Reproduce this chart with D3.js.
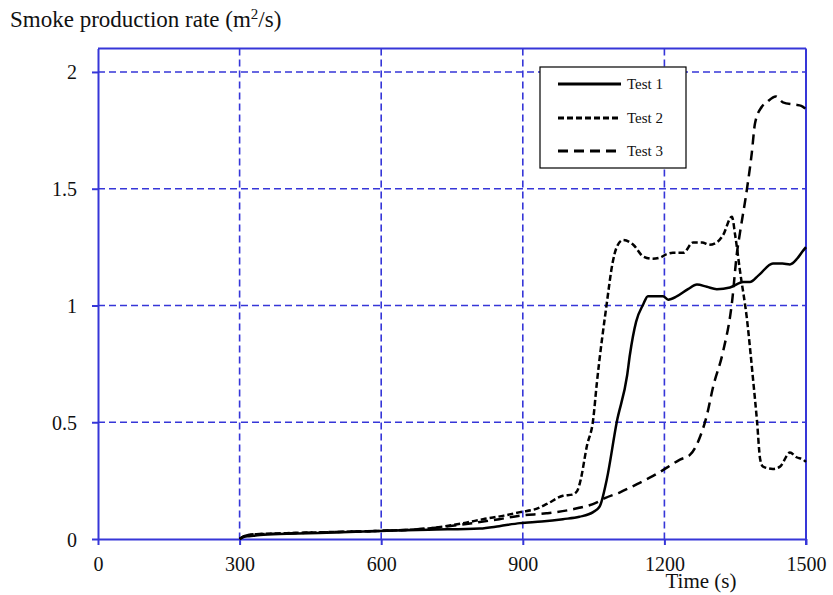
<!DOCTYPE html>
<html>
<head>
<meta charset="utf-8">
<script src="https://cdn.jsdelivr.net/npm/d3@7"></script>
<style>
  html, body { margin: 0; padding: 0; background: #fff; }
  svg { display: block; }
</style>
</head>
<body>
<svg id="chart" width="833" height="595"></svg>
<script>
const xTicks = [0, 300, 600, 900, 1200, 1500];
const yTicks = [0, 0.5, 1, 1.5, 2];
const yTickLabels = ["0", "0.5", "1", "1.5", "2"];
const seriesNames = ["Test 1", "Test 2", "Test 3"];

const t1x = [300, 310, 320, 343, 400, 500, 597, 700, 809, 850, 894, 940, 985, 1020, 1049, 1063, 1078, 1099, 1121, 1127, 1140, 1155, 1165, 1180, 1197, 1208, 1227, 1250, 1269, 1290, 1311, 1339, 1367, 1381, 1400, 1430, 1450, 1466, 1481, 1492, 1500];
const t1y = [0, 0.01, 0.012, 0.017, 0.022, 0.028, 0.034, 0.04, 0.045, 0.055, 0.068, 0.075, 0.085, 0.095, 0.115, 0.14, 0.256, 0.5, 0.70, 0.79, 0.93, 1.004, 1.04, 1.04, 1.04, 1.025, 1.04, 1.07, 1.09, 1.08, 1.07, 1.077, 1.10, 1.10, 1.13, 1.18, 1.18, 1.176, 1.20, 1.23, 1.25];

const t2x = [300, 310, 330, 400, 500, 600, 700, 739, 780, 816, 860, 894, 930, 951, 985, 1005, 1015, 1021, 1036, 1049, 1057, 1078, 1090, 1099, 1112, 1134, 1155, 1175, 1191, 1205, 1218, 1240, 1261, 1280, 1295, 1311, 1324, 1343, 1350, 1360, 1375, 1388, 1396, 1403, 1409, 1430, 1445, 1466, 1480, 1494, 1500];
const t2y = [0, 0.012, 0.02, 0.025, 0.03, 0.035, 0.045, 0.056, 0.07, 0.085, 0.1, 0.115, 0.13, 0.15, 0.185, 0.19, 0.205, 0.24, 0.40, 0.51, 0.67, 1.01, 1.18, 1.25, 1.28, 1.26, 1.21, 1.20, 1.205, 1.22, 1.226, 1.226, 1.27, 1.27, 1.26, 1.27, 1.30, 1.38, 1.30, 1.15, 0.94, 0.68, 0.51, 0.34, 0.31, 0.30, 0.31, 0.37, 0.35, 0.34, 0.33];

const t3x = [300, 310, 330, 400, 500, 600, 700, 800, 850, 894, 950, 1000, 1057, 1074, 1106, 1142, 1176, 1201, 1233, 1254, 1276, 1290, 1303, 1324, 1343, 1354, 1360, 1375, 1385, 1392, 1406, 1417, 1436, 1451, 1477, 1490, 1500];
const t3y = [0, 0.012, 0.02, 0.024, 0.03, 0.035, 0.045, 0.07, 0.085, 0.10, 0.11, 0.125, 0.157, 0.175, 0.20, 0.235, 0.27, 0.30, 0.34, 0.36, 0.44, 0.53, 0.65, 0.80, 1.01, 1.23, 1.31, 1.50, 1.65, 1.78, 1.85, 1.87, 1.895, 1.87, 1.86, 1.855, 1.84];

const series = [
  {name: seriesNames[0], xs: t1x, ys: t1y, dash: null},
  {name: seriesNames[1], xs: t2x, ys: t2y, dash: "6,3"},
  {name: seriesNames[2], xs: t3x, ys: t3y, dash: "10,6"}
];

const svg = d3.select("#chart");
const blue = "#3636d8";
const font = "'Liberation Serif', 'Times New Roman', serif";

const x = d3.scaleLinear().domain([0, 1500]).range([98, 806]);
const y = d3.scaleLinear().domain([0, 2.1]).range([539, 48.6]);

svg.append("rect").attr("width", 833).attr("height", 595).attr("fill", "#fff");

// grid
const g = svg.append("g");
g.selectAll("line.vg").data(xTicks.filter(d => d > 0 && d < 1500)).enter().append("line")
  .attr("x1", d => x(d)).attr("x2", d => x(d))
  .attr("y1", y(2.1)).attr("y2", y(0))
  .attr("stroke", blue).attr("stroke-width", 1.6).attr("stroke-dasharray", "7,4");
g.selectAll("line.hg").data(yTicks.filter(d => d > 0)).enter().append("line")
  .attr("x1", x(0)).attr("x2", x(1500))
  .attr("y1", d => y(d)).attr("y2", d => y(d))
  .attr("stroke", blue).attr("stroke-width", 1.6).attr("stroke-dasharray", "7,4");

// frame (top & right)
svg.append("line").attr("x1", x(0)).attr("x2", x(1500)).attr("y1", y(2.1)).attr("y2", y(2.1))
  .attr("stroke", blue).attr("stroke-width", 2);
svg.append("line").attr("x1", x(1500)).attr("x2", x(1500)).attr("y1", y(2.1)).attr("y2", y(0) + 6)
  .attr("stroke", blue).attr("stroke-width", 2);

// axes
const xAxis = d3.axisBottom(x).tickValues(xTicks).tickFormat(d3.format("d")).tickSize(6).tickPadding(12).tickSizeOuter(0);
const xg = svg.append("g").attr("transform", `translate(0,${y(0)})`).call(xAxis);
const yAxis = d3.axisLeft(y).tickValues(yTicks).tickFormat((d, i) => yTickLabels[i]).tickSize(6).tickPadding(15).tickSizeOuter(0);
const yg = svg.append("g").attr("transform", `translate(${x(0)},0)`).call(yAxis);
[xg, yg].forEach(a => {
  a.select(".domain").attr("stroke", blue).attr("stroke-width", 2);
  a.selectAll(".tick line").attr("stroke", blue).attr("stroke-width", 2);
  a.selectAll(".tick text").attr("fill", "#111").attr("font-family", font).attr("font-size", 20);
});
yg.selectAll(".tick text").attr("dy", "0.35em");

// lines
const line = d3.line().x(d => x(d[0])).y(d => y(d[1])).curve(d3.curveMonotoneX);
series.forEach(s => {
  const pts = s.xs.map((v, i) => [v, s.ys[i]]);
  svg.append("path").datum(pts).attr("d", line)
    .attr("fill", "none").attr("stroke", "#000").attr("stroke-width", 2.5)
    .attr("stroke-dasharray", s.dash);
});

// legend
const lg = svg.append("g");
lg.append("rect").attr("x", 540).attr("y", 67).attr("width", 146).attr("height", 101)
  .attr("fill", "#fff").attr("stroke", "#000").attr("stroke-width", 1.2);
const rowsY = [84, 118, 151];
series.forEach((s, i) => {
  lg.append("line").attr("x1", 558).attr("x2", 621).attr("y1", rowsY[i]).attr("y2", rowsY[i])
    .attr("stroke", "#000").attr("stroke-width", 3).attr("stroke-dasharray", s.dash);
  lg.append("text").attr("x", 627).attr("y", rowsY[i]).attr("dy", "0.35em")
    .attr("font-family", font).attr("font-size", 15).attr("fill", "#111").text(s.name);
});

// titles
svg.append("text").attr("x", 10).attr("y", 27).attr("font-family", font).attr("font-size", 23).attr("fill", "#111")
  .html("Smoke production rate (m<tspan dy='-8' font-size='15'>2</tspan><tspan dy='8'>/s)</tspan>");
svg.append("text").attr("x", 701).attr("y", 588).attr("text-anchor", "middle")
  .attr("font-family", font).attr("font-size", 21).attr("fill", "#111").text("Time (s)");
</script>
</body>
</html>
